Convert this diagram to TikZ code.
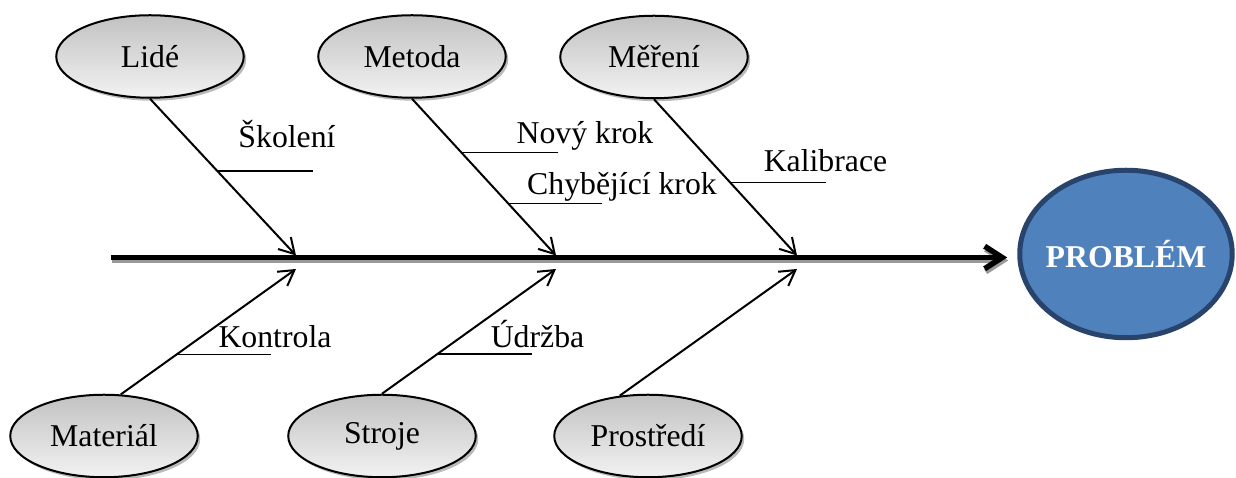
\documentclass[tikz,border=0pt]{standalone}
\usepackage{fontspec}
\setmainfont{Liberation Serif}
\usetikzlibrary{arrows.meta,shapes.geometric,shadows,calc}
\definecolor{probfill}{RGB}{79,129,189}
\definecolor{probline}{RGB}{40,68,108}

\begin{document}
\begin{tikzpicture}[x=0.4pt,y=0.4pt,>={Straight Barb[length=6pt,width=7pt]},
  every node/.append style={font=\fontsize{12.7}{15}\selectfont},
  cause/.style={ellipse,draw,line width=0.8pt,minimum width=75pt,minimum height=33pt,inner sep=0pt,
    top color=black!24,bottom color=black!5,
    drop shadow={shadow xshift=1pt,shadow yshift=-1.2pt,fill=black!45,opacity=0.6}},
  problem/.style={ellipse,draw=probline,line width=2pt,fill=probfill,text=white,
    inner xsep=-8pt,inner ysep=0pt,
    minimum width=85pt,minimum height=67pt,font=\fontsize{12.7}{15}\selectfont\bfseries},
  bone/.style={->,line width=0.8pt},
  twig/.style={line width=0.6pt},
  spine/.style={-{Straight Barb[length=7pt,width=9pt]},line width=2.2pt,shorten >=4pt}]
  \useasboundingbox (0,0) rectangle (1236,478);

  % hlavy kosti
  \node[cause] (lide) at (150,421.5) {Lidé};
  \node[cause] (metoda) at (412,421.5) {Metoda};
  \node[cause] (mereni) at (654,421) {Měření};
  \node[cause] (material) at (104,42) {Materiál};
  \node[cause] (stroje) at (382,42) {Stroje};
  \node[cause] (prostredi) at (648,42) {Prostředí};
  \node[problem] (problem) at (1126,224) {PROBLÉM};

  % paterni osa
  \coordinate (tail) at (111,220.5);
  \draw[spine,black!40,transform canvas={xshift=0.4pt,yshift=-1.2pt}] (tail) -- (tail -| problem.west);
  \draw[spine] (tail) -- (tail -| problem.west);

  \coordinate (t1) at (296,222.5);
  \coordinate (t2) at (556,222.5);
  \coordinate (t3) at (797,222.5);
  \coordinate (b1) at (296,209);
  \coordinate (b2) at (556,209);
  \coordinate (b3) at (797,209);

  \draw[bone] (lide.south) -- (t1);
  \draw[bone] (metoda.south) -- (t2);
  \draw[bone] (mereni.south) -- (t3);
  \draw[bone] (material.68) -- (b1);
  \draw[bone] (stroje.north) -- (b2);
  \draw[bone] (prostredi.125) -- (b3);

  % vedlejsi priciny
  \coordinate (sk) at ($(lide.south)!0.46!(t1)$);
  \coordinate (nk) at ($(metoda.south)!0.344!(t2)$);
  \coordinate (ck) at ($(metoda.south)!0.669!(t2)$);
  \coordinate (ka) at ($(mereni.south)!0.532!(t3)$);
  \coordinate (ko) at ($(material.68)!0.32!(b1)$);
  \coordinate (ud) at ($(stroje.north)!0.32!(b2)$);
  \draw[twig] (sk) -- ++(96,0);
  \draw[twig] (nk) -- ++(96,0);
  \draw[twig] (ck) -- ++(94,0);
  \draw[twig] (ka) -- ++(96,0);
  \draw[twig] (ko) -- ++(94,0);
  \draw[twig] (ud) -- ++(94,0);

  \node[anchor=base] (skoleni) at (287,330) {Školení};
  \node[anchor=base] (novy) at (585,334) {Nový krok};
  \node[anchor=base] (chybi) at (622,283) {Chybějící krok};
  \node[anchor=base] (kalibrace) at (825.5,306) {Kalibrace};
  \node[anchor=base] (kontrola) at (275,130) {Kontrola};
  \node[anchor=base] (udrzba) at (537.5,130) {Údržba};
\end{tikzpicture}
\end{document}
